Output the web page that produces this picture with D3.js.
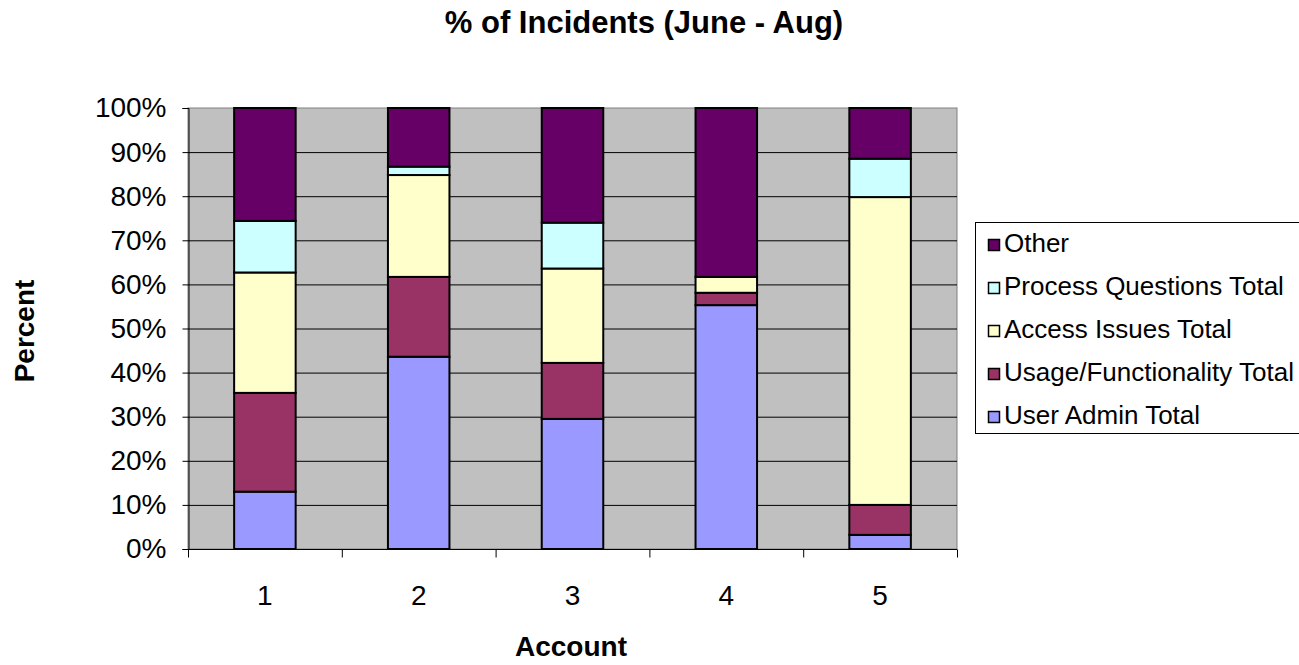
<!DOCTYPE html>
<html>
<head>
<meta charset="utf-8">
<script src="https://cdn.jsdelivr.net/npm/d3@7"></script>
<style>
  html, body { margin: 0; padding: 0; background: #fff; }
  svg { display: block; font-family: "Liberation Sans", Arial, sans-serif; }
</style>
</head>
<body>
<svg id="chart" width="1299" height="665"></svg>
<script>
const categories = ["1", "2", "3", "4", "5"];
const seriesNames = ["User Admin Total", "Usage/Functionality Total", "Access Issues Total", "Process Questions Total", "Other"];
const userAdmin = [13.0, 43.6, 29.5, 55.3, 3.2];
const usageFunctionality = [22.4, 18.1, 12.7, 2.8, 6.8];
const accessIssues = [27.3, 23.1, 21.4, 3.6, 69.8];
const processQuestions = [11.7, 1.9, 10.4, 0.0, 8.7];
const other = [25.6, 13.3, 26.0, 38.3, 11.5];
const yTicks = [0, 10, 20, 30, 40, 50, 60, 70, 80, 90, 100];
const colors = ["#9999FF", "#993366", "#FFFFCC", "#CCFFFF", "#660066"];

const seriesValues = [userAdmin, usageFunctionality, accessIssues, processQuestions, other];
const rows = categories.map((c, i) => {
  const r = { cat: c };
  seriesNames.forEach((s, j) => r[s] = seriesValues[j][i]);
  return r;
});

const svg = d3.select("#chart");
const pL = 188, pR = 957, pT = 108, pB = 549;

const x = d3.scaleBand().domain(categories).range([pL, pR]).paddingInner(0.6).paddingOuter(0.3);
const xb = d3.scaleBand().domain(categories).range([pL, pR]);
const y = d3.scaleLinear().domain([0, 100]).range([pB, pT]);

// plot area
svg.append("rect").attr("x", pL).attr("y", pT).attr("width", pR - pL).attr("height", pB - pT)
  .attr("fill", "#C0C0C0").attr("stroke", "#808080").attr("stroke-width", 1);

// gridlines
svg.append("g").selectAll("line").data(yTicks.filter(d => d > 0 && d < 100)).join("line")
  .attr("x1", pL).attr("x2", pR).attr("y1", d => y(d) + 0.5).attr("y2", d => y(d) + 0.5)
  .attr("stroke", "#000").attr("stroke-width", 1);

// bars
const stacked = d3.stack().keys(seriesNames)(rows);
svg.append("g").selectAll("g").data(stacked).join("g")
  .attr("fill", (d, i) => colors[i])
  .selectAll("rect").data(d => d).join("rect")
  .attr("x", d => x(d.data.cat))
  .attr("width", x.bandwidth())
  .attr("y", d => y(d[1]))
  .attr("height", d => Math.max(0, y(d[0]) - y(d[1])))
  .attr("stroke", "#000").attr("stroke-width", 2)
  .attr("display", d => (d[1] - d[0]) > 0 ? null : "none");

// y axis
const yAxis = d3.axisLeft(y).tickValues(yTicks).tickFormat(d => d + "%").tickSize(6).tickPadding(16);
const ya = svg.append("g").attr("transform", `translate(${pL + 0.5},0)`).call(yAxis);
ya.select(".domain").attr("stroke", "#000");
ya.selectAll(".tick line").attr("stroke", "#000");
ya.selectAll("text").attr("font-size", 28).attr("fill", "#000").attr("font-family", "Liberation Sans, Arial, sans-serif");

// x axis
const xa = svg.append("g").attr("transform", `translate(0,${pB + 0.5})`);
xa.append("line").attr("x1", pL).attr("x2", pR).attr("stroke", "#000");
const boundaries = categories.map(c => xb(c)).concat([pR]);
xa.selectAll("line.tk").data(boundaries).join("line").attr("class", "tk")
  .attr("x1", d => d + 0.5).attr("x2", d => d + 0.5).attr("y1", 0).attr("y2", 8).attr("stroke", "#000");
xa.selectAll("text").data(categories).join("text")
  .attr("x", d => xb(d) + xb.bandwidth() / 2).attr("y", 55)
  .attr("text-anchor", "middle").attr("font-size", 28).attr("fill", "#000").text(d => d);

// title
svg.append("text").attr("x", 644).attr("y", 33).attr("text-anchor", "middle")
  .attr("font-size", 31).attr("font-weight", "bold").text("% of Incidents (June - Aug)");

// axis titles
svg.append("text").attr("x", 571).attr("y", 656).attr("text-anchor", "middle")
  .attr("font-size", 28).attr("font-weight", "bold").text("Account");
svg.append("text").attr("transform", "translate(34,331) rotate(-90)").attr("text-anchor", "middle")
  .attr("font-size", 28).attr("font-weight", "bold").text("Percent");

// legend
const lg = svg.append("g");
lg.append("rect").attr("x", 975.5).attr("y", 222.5).attr("width", 340).attr("height", 211)
  .attr("fill", "#fff").attr("stroke", "#000").attr("stroke-width", 1);
const legendOrder = seriesNames.map((s, i) => ({ s, c: colors[i] })).reverse();
const items = lg.selectAll("g.item").data(legendOrder).join("g").attr("class", "item")
  .attr("transform", (d, i) => `translate(988,${252 + i * 43})`);
items.append("rect").attr("x", 0.5).attr("y", -12.5).attr("width", 11).attr("height", 11)
  .attr("fill", d => d.c).attr("stroke", "#000").attr("stroke-width", 1.5);
items.append("text").attr("x", 16).attr("y", 0).attr("font-size", 26).attr("fill", "#000").text(d => d.s);
</script>
</body>
</html>
